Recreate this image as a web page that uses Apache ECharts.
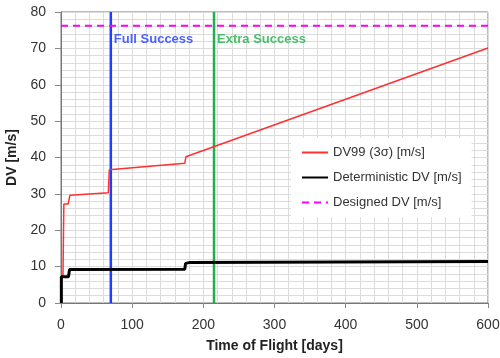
<!DOCTYPE html>
<html><head><meta charset="utf-8">
<script src="https://cdn.jsdelivr.net/npm/echarts@6/dist/echarts.min.js"></script>
<style>html,body{margin:0;padding:0;background:#fff}#c{width:500px;height:358px}</style>
</head><body><div id="c"></div>
<script>
// DV99 (3σ) [m/s]
const dv99Days = [2.4, 2.8, 4, 10, 12.5, 66.5, 67.9, 174, 175.5, 600];
const dv99Vals = [7.2, 8.0, 27.2, 27.2, 29.6, 30.3, 36.6, 38.4, 40.2, 70.1];
// Deterministic DV [m/s]
const detDays = [0.5, 0.5, 10.5, 12, 174, 175, 180, 181, 600];
const detVals = [0, 7.2, 7.2, 9.2, 9.3, 10.9, 11.1, 11.4, 11.4];
// Designed DV [m/s]
const designedDV = 76.2;
// Milestones
const milestoneNames = ['Full Success', 'Extra Success'];
const milestoneDays = [70, 215];
const milestoneColors = ['#1f3cff', '#1fb04a'];
const milestoneLabelY = 72.4;

const xMin = 0, xMax = 600, xInterval = 100;
const yMin = 0, yMax = 80, yInterval = 10;

const font = 'Liberation Sans, Arial, sans-serif';
const zip = (a, b) => a.map((v, i) => [v, b[i]]);

const series = [
  {name: 'DV99 (3σ) [m/s]', type: 'line', data: zip(dv99Days, dv99Vals), symbol: 'none',
   lineStyle: {color: '#ff3030', width: 1.5}, itemStyle: {color: '#ff3030'}, z: 5},
  {name: 'Deterministic DV [m/s]', type: 'line', data: zip(detDays, detVals), symbol: 'none',
   lineStyle: {color: '#000', width: 3}, itemStyle: {color: '#000'}, z: 5},
  {name: 'Designed DV [m/s]', type: 'line', data: [[xMin, designedDV], [xMax, designedDV]], symbol: 'none',
   lineStyle: {color: '#ff00ff', width: 2, type: [7, 5]}, itemStyle: {color: '#ff00ff'}, z: 5}
];
milestoneNames.forEach((n, i) => {
  series.push({name: n, type: 'line', data: [[milestoneDays[i], yMin], [milestoneDays[i], yMax]], symbol: 'none',
    lineStyle: {color: milestoneColors[i], width: 2.5}, z: 4, silent: true});
  series.push({name: n + ' label', type: 'scatter', data: [[milestoneDays[i], milestoneLabelY]], symbolSize: 0,
    label: {show: true, position: 'right', distance: 3, formatter: n, color: milestoneColors[i],
      fontWeight: 'bold', fontSize: 13, fontFamily: font}, z: 6, silent: true});
});

const chart = echarts.init(document.getElementById('c'));
chart.setOption({
  animation: false,
  grid: {left: 61, right: 12, top: 12, bottom: 55, show: true, borderColor: '#777', borderWidth: 1,
    backgroundColor: 'transparent', containLabel: false, outerBoundsMode: 'none'},
  legend: {
    data: ['DV99 (3σ) [m/s]', 'Deterministic DV [m/s]', 'Designed DV [m/s]'],
    orient: 'vertical', left: 291, top: 138, itemWidth: 26, itemHeight: 10, itemGap: 12,
    backgroundColor: '#fff', padding: [8, 10, 8, 10],
    itemStyle: {opacity: 0},
    textStyle: {fontSize: 13, color: '#333', fontFamily: font}
  },
  xAxis: {
    type: 'value', min: xMin, max: xMax, interval: xInterval,
    name: 'Time of Flight [days]', nameLocation: 'middle', nameGap: 36,
    nameTextStyle: {fontSize: 14, fontWeight: 'bold', color: '#222', fontFamily: font},
    axisLine: {lineStyle: {color: '#777'}},
    axisTick: {show: true, length: 5, lineStyle: {color: '#888'}},
    axisLabel: {fontSize: 14, color: '#333', fontFamily: font, margin: 15},
    splitLine: {show: true, lineStyle: {color: '#dcdcdc', width: 1}},
    minorTick: {show: false, splitNumber: 5},
    minorSplitLine: {show: true, lineStyle: {color: '#dcdcdc', width: 1}}
  },
  yAxis: {
    type: 'value', min: yMin, max: yMax, interval: yInterval,
    name: 'DV [m/s]', nameLocation: 'middle', nameGap: 37,
    nameTextStyle: {fontSize: 14, fontWeight: 'bold', color: '#222', fontFamily: font},
    axisLine: {show: true, lineStyle: {color: '#777'}},
    axisTick: {show: true, length: 6, lineStyle: {color: '#888'}},
    axisLabel: {fontSize: 14, color: '#333', fontFamily: font, margin: 15},
    splitLine: {show: true, lineStyle: {color: '#dcdcdc', width: 1}},
    minorTick: {show: false, splitNumber: 5},
    minorSplitLine: {show: true, lineStyle: {color: '#dcdcdc', width: 1}}
  },
  series: series
});
</script>
</body></html>
